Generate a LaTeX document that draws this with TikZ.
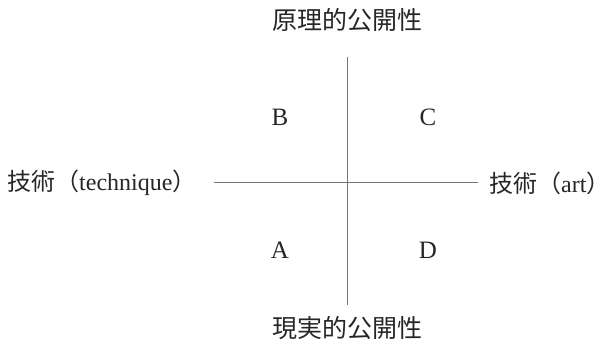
\documentclass[tikz,border=0pt]{standalone}
\usepackage{fontspec}
\setmainfont{Liberation Serif}
\newfontfamily\cjk{Noto Sans CJK JP}
\newcommand{\rpar}{\makebox[0.5em][l]{\cjk ）}}
\begin{document}
\begin{tikzpicture}[x=1pt,y=-1pt,
  lab/.style={font=\fontsize{25}{28}\selectfont, text=black!85, inner sep=0pt},
  side/.style={font=\fontsize{24}{28}\selectfont, text=black!85, inner sep=0pt},
  quad/.style={font=\fontsize{25}{28}\selectfont, text=black!85, inner sep=0pt},
  axis/.style={draw=black!55, line width=1pt}]
\useasboundingbox (0,0) rectangle (613,350);
\coordinate (vt) at (347,57);
\coordinate (vb) at (347,305);
\coordinate (hl) at (214,182);
\coordinate (hr) at (478,182);
\draw[axis] (vt) -- (vb);
\draw[axis] (hl) -- (hr);
\node[lab] (top) at (347,20) {\cjk 原理的公開性};
\node[lab] (bot) at (347,328) {\cjk 現実的公開性};
\node[side, anchor=west] (left) at (7,183) {{\cjk 技術（}technique\rpar};
\node[side, anchor=west] (right) at (489,183) {{\cjk 技術（}art\rpar};
\node[quad] (B) at (280,117) {B};
\node[quad] (C) at (428,117) {C};
\node[quad] (A) at (280,250) {A};
\node[quad] (D) at (428,250) {D};
\end{tikzpicture}
\end{document}
